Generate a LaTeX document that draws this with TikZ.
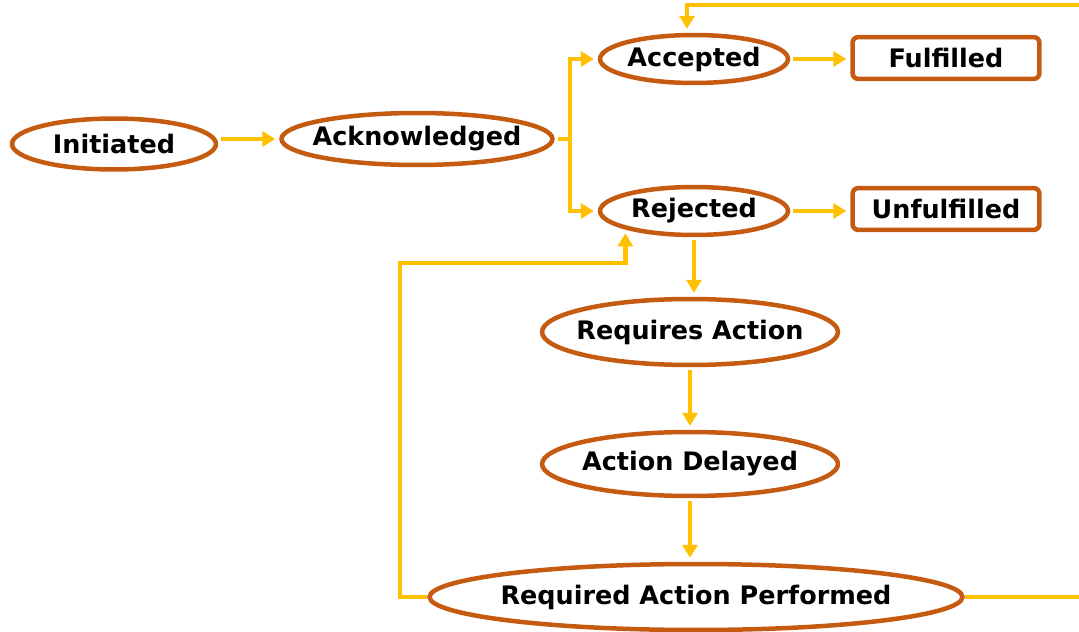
\documentclass[tikz,border=0pt]{standalone}
\usepackage{fontspec}
\setmainfont{DejaVu Sans}
\usepackage{tikz}
\usetikzlibrary{shapes.geometric, arrows.meta}
\definecolor{rust}{HTML}{C55A11}
\definecolor{amber}{HTML}{FFC000}

\begin{document}
\begin{tikzpicture}[x=0.02cm, y=-0.02cm, >={Triangle[length=0.26cm, width=0.3cm]},
  state/.style={
  % The shape:
  ellipse,
  inner xsep=-0.6cm, inner ysep=0pt,
  % The border
  line width=0.09cm, draw=rust, fill=white,
  font=\bfseries\fontsize{14.5}{16}\selectfont},
  final/.style={
  % The shape:
  rectangle, rounded corners=0.12cm,
  % The size:
  minimum width=3.74cm, minimum height=0.84cm,
  % The border
  line width=0.09cm, draw=rust,
  font=\bfseries\fontsize{14.5}{16}\selectfont},
  link/.style={line width=0.09cm, draw=amber,
  shorten >=0.08cm, shorten <=0.06cm}]
  \useasboundingbox (0,0) rectangle (1079,632);

  \node [state, minimum width=4.08cm, minimum height=1.02cm] (init) at (114,144) {Initiated};
  \node [state, minimum width=5.42cm, minimum height=1.04cm] (ack) at (417,139) {Acknowledged};
  \node [state, minimum width=3.76cm, minimum height=0.96cm] (acc) at (694,59) {Accepted};
  \node [state, minimum width=3.76cm, minimum height=0.96cm] (rej) at (694,211) {Rejected};
  \node [final] (ful) at (946,58) {Fulfilled};
  \node [final] (unf) at (946,209) {Unfulfilled};
  \node [state, minimum width=5.92cm, minimum height=1.32cm] (req) at (690,332) {Requires Action};
  \node [state, minimum width=5.92cm, minimum height=1.28cm] (del) at (690,464) {Action Delayed};
  \node [state, minimum width=10.66cm, minimum height=1.32cm] (perf) at (696,597) {Required Action Performed};

  \coordinate (fork) at (570,139);
  \coordinate (loop) at (400,263);
  \coordinate (topR) at (1079,5);
  \coordinate (botR) at (1079,597);

  \draw [link, ->] (init.east |- ack.west) -- (ack.west);
  \draw [link, shorten >=0pt] (ack.east) -- (fork);
  \draw [link, ->, shorten <=0pt] (fork) |- (acc.west);
  \draw [link, ->, shorten <=0pt] (fork) |- (rej.west);
  \draw [link, ->] (acc.east) -- (acc.east -| ful.west);
  \draw [link, ->] (rej.east) -- (rej.east -| unf.west);
  \draw [link, ->] (rej.south) -- (rej.south |- req.north);
  \draw [link, ->] (req) -- (del);
  \draw [link, ->] (del.south) -- (del.south |- perf.north);
  \draw [link, ->, shorten <=0pt] (perf.west) -| (loop) -| (rej.195);
  \draw [link, shorten <=0pt, shorten >=0pt] (perf.east) -- (botR);
  \draw [link, ->, shorten <=0pt] (topR) -| ([xshift=-0.14cm]acc.north);
\end{tikzpicture}
\end{document}
